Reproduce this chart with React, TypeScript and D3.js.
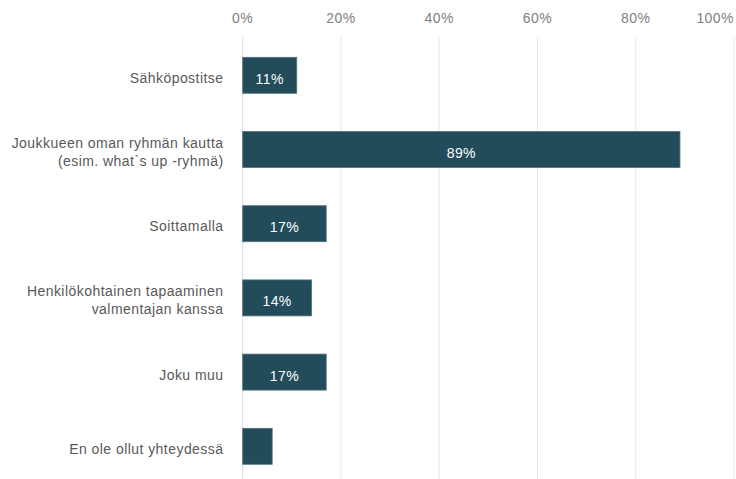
import React from "react";
import * as d3 from "d3";

const categories: string[][] = [
  ["Sähköpostitse"],
  ["Joukkueen oman ryhmän kautta", "(esim. what`s up -ryhmä)"],
  ["Soittamalla"],
  ["Henkilökohtainen tapaaminen", "valmentajan kanssa"],
  ["Joku muu"],
  ["En ole ollut yhteydessä"],
];
const values: number[] = [11, 89, 17, 14, 17, 6];
const valueLabels: string[] = ["11%", "89%", "17%", "14%", "17%", ""];
const tickValues: number[] = [0, 20, 40, 60, 80, 100];

const W = 736;
const H = 479;

export default function App() {
  const x = d3.scaleLinear().domain([0, 100]).range([242.7, 734]);
  const ids = categories.map((_, i) => String(i));
  const y = d3
    .scaleBand<string>()
    .domain(ids)
    .range([38.2, 483.4])
    .paddingInner(0.515)
    .paddingOuter(0.2575);
  const bw = y.bandwidth();
  const font = "'Liberation Sans', Arial, sans-serif";
  const fs = 14;
  const ls = 0.45;

  return (
    <svg
      width={W}
      height={H}
      style={{ position: "absolute", left: 0, top: 0, background: "#fff" }}
      fontFamily={font}
    >
      {tickValues.map((t) => (
        <line
          key={"g" + t}
          x1={x(t)}
          x2={x(t)}
          y1={37}
          y2={H}
          stroke={t === 0 ? "#d5dcef" : "#e8e8e8"}
          strokeWidth={1}
        />
      ))}
      {tickValues.map((t) => (
        <text
          key={"t" + t}
          x={t === 100 ? x(t) : x(t)}
          y={23}
          textAnchor={t === 100 ? "end" : "middle"}
          fontSize={fs}
          letterSpacing={ls}
          fill="#808080"
        >
          {t}%
        </text>
      ))}
      {values.map((v, i) => {
        const y0 = y(String(i)) as number;
        const cy = y0 + bw / 2;
        const lines = categories[i];
        return (
          <g key={"b" + i}>
            <rect
              x={x(0)}
              y={y0}
              width={x(v) - x(0)}
              height={bw}
              fill="#234c5a"
              stroke="#52717c"
              strokeWidth={0.8}
            />
            {valueLabels[i] && (
              <text
                x={(x(0) + x(v)) / 2}
                y={cy + 8.5}
                textAnchor="middle"
                fontSize={fs}
                letterSpacing={ls}
                fill="#ffffff"
              >
                {valueLabels[i]}
              </text>
            )}
            {lines.length === 1 ? (
              <text x={223.5} y={cy + 7.5} textAnchor="end" fontSize={fs} letterSpacing={ls} fill="#595959">
                {lines[0]}
              </text>
            ) : (
              <text x={223.5} y={cy - 1.5} textAnchor="end" fontSize={fs} letterSpacing={ls} fill="#595959">
                <tspan x={223.5}>{lines[0]}</tspan>
                <tspan x={223.5} dy={17.5}>
                  {lines[1]}
                </tspan>
              </text>
            )}
          </g>
        );
      })}
    </svg>
  );
}
